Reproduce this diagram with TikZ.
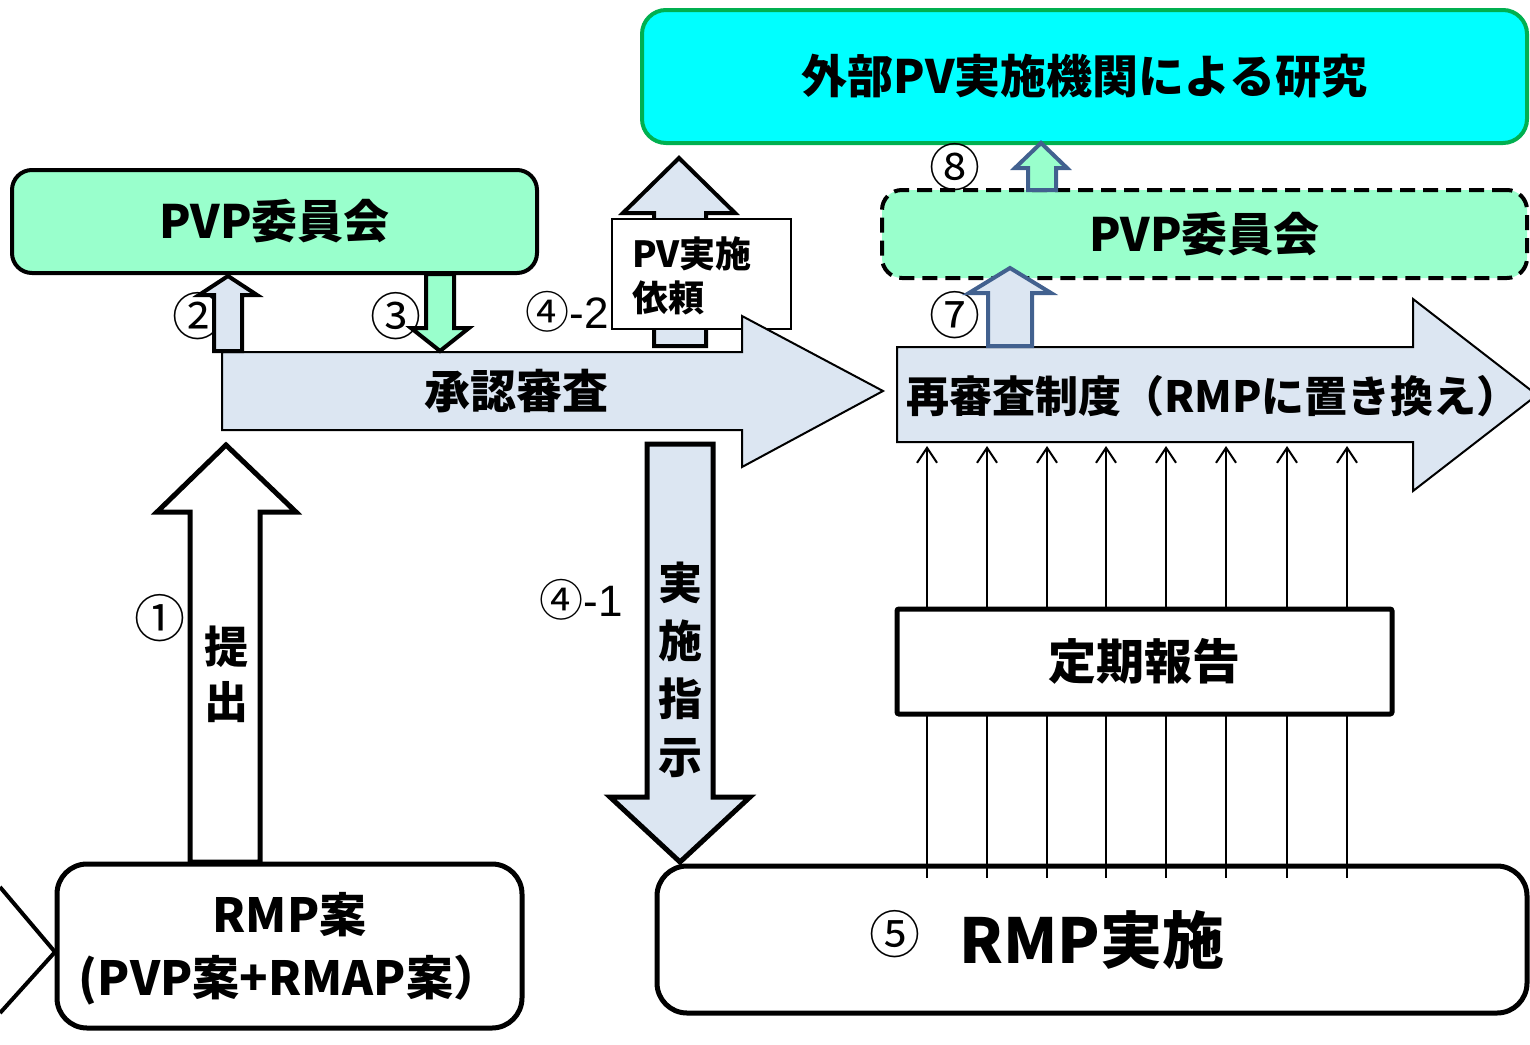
\documentclass[tikz,border=0pt]{standalone}
\usepackage{fontspec}
\setmainfont{Noto Sans CJK JP}
\newfontfamily\lat{Liberation Sans}
\usetikzlibrary{arrows.meta}
\definecolor{lbf}{HTML}{DCE6F2}
\definecolor{gnf}{HTML}{99FFCC}
\definecolor{cyf}{HTML}{00FFFF}
\definecolor{gnb}{HTML}{00B050}
\definecolor{blb}{HTML}{42618F}
\newcommand\fsz[2]{\fontsize{#1}{#2}\selectfont}
\tikzset{
  circnum/.style={font=\fsz{51}{56}, inner sep=0pt},
  subnum/.style={font=\fsz{44}{50}, inner sep=0pt},
  bigtxt/.style={font=\fsz{46}{52}\bfseries, inner sep=0pt},
  greenbox/.style={fill=gnf, draw=black, line width=4pt, rounded corners=20pt},
  whitebox/.style={fill=white, draw=black, line width=5pt, rounded corners=30pt},
  blockarr/.style={fill=lbf, draw=black, line width=2pt, line join=miter},
  fatarr/.style={draw=black, line width=5pt, line join=miter},
  midarr/.style={draw=black, line width=4pt, line join=miter},
  bluearr/.style={draw=blb, line width=4pt, line join=miter},
  thinarr/.style={draw=black, line width=2pt, -{Straight Barb[length=15pt,width=20pt,line width=2pt]}},
}
\begin{document}
\begin{tikzpicture}[x=1pt,y=-1pt]
\useasboundingbox (0,0) rectangle (1530,1044);

% ---- top box
\node[fill=cyf, draw=gnb, line width=4pt, rounded corners=24pt, minimum width=885pt, minimum height=133pt] (ext) at (1084.5,76.5) {};
\node[bigtxt] (extT) at (ext.center) {外部PV実施機関による研究};

% ---- left PVP committee
\node[greenbox, minimum width=525pt, minimum height=103pt] (pvpL) at (274.5,221.5) {};
\node[bigtxt] (pvpLT) at (pvpL.center) {PVP委員会};

% ---- dashed PVP committee
\node[greenbox, dash pattern=on 15pt off 8pt, minimum width=645pt, minimum height=88pt] (pvpR) at (1204.5,234) {};
\node[bigtxt] (pvpRT) at (pvpR.center) {PVP委員会};

% ---- labels (under arrows)
\node[circnum] (n1) at (160,618) {①};
\node[circnum] (n2) at (198,316) {②};
\node[circnum] (n3) at (396,316) {③};
\node[subnum] (n42) at (567,312) {④{\lat -2}};
\node[subnum] (n41) at (581,600) {④{\lat -1}};
\node[circnum] (n7) at (955,315) {⑦};
\node[circnum] (n8) at (955,167) {⑧};

% ---- PV request arrow (up) and box
\path[fill=lbf, midarr] (654,346) -- (654,213) -- (623,213) -- (679,158) -- (735,213) -- (706,213) -- (706,346) -- cycle;
\node[fill=white, draw=black, line width=2pt, minimum width=179pt, minimum height=110pt, inner sep=0pt] (pvreq) at (701.5,274) {};
\node[font=\fsz{36}{44}\bfseries, text width=139pt, align=left, inner sep=0pt] (pvreqT) at (701.5,276) {PV実施\\依頼};

% ---- approval review arrow
\path[blockarr] (222,352) -- (742,352) -- (742,316) -- (883,391) -- (742,467) -- (742,430) -- (222,430) -- cycle;
\node[bigtxt] (appr) at (516,391) {承認審査};

% ---- re-examination arrow
\path[blockarr] (897,347) -- (1413,347) -- (1413,299) -- (1537,395) -- (1413,491) -- (1413,442) -- (897,442) -- cycle;
\node[font=\fsz{43}{50}\bfseries, inner sep=0pt, anchor=west] (reex) at (906,396) {再審査制度（RMPに置き換え\makebox[0.45em][l]{）}};

% ---- small arrows 2 and 3
\path[fill=lbf, midarr] (214,351) -- (214,295) -- (199,295) -- (228,276) -- (257,295) -- (242,295) -- (242,351) -- cycle;
\path[fill=gnf, midarr] (426,274) -- (426,328) -- (411,328) -- (440,351) -- (469,328) -- (454,328) -- (454,274) -- cycle;

% ---- small arrows 7 and 8
\path[fill=lbf, bluearr] (988,346) -- (988,293) -- (969,293) -- (1010,268) -- (1051,293) -- (1032,293) -- (1032,346) -- cycle;
\path[fill=gnf, bluearr] (1028,190) -- (1028,168) -- (1015,168) -- (1041,143) -- (1067,168) -- (1056,168) -- (1056,190) -- cycle;

% ---- implementation instruction arrow (down)
\path[fill=lbf, fatarr] (647,444) -- (713,444) -- (713,797) -- (750,797) -- (680,862) -- (610,797) -- (647,797) -- cycle;
\node[font=\fsz{44}{58}\bfseries, align=center, inner sep=0pt] (instr) at (680,670) {実\\施\\指\\示};

% ---- submission arrow (up)
\path[fill=white, fatarr] (190,862) -- (190,512) -- (157,512) -- (226,445) -- (296,512) -- (260,512) -- (260,862) -- cycle;
\node[font=\fsz{44}{55}\bfseries, align=center, inner sep=0pt] (subm) at (226,674) {提\\出};

% ---- RMP implementation box
\node[whitebox, minimum width=870pt, minimum height=147pt] (impl) at (1092,939.5) {};
\node[font=\fsz{62}{70}\bfseries, inner sep=0pt] (implT) at (1092,940) {RMP実施};
\node[circnum] (n5) at (895,934) {⑤};

% ---- periodic report lines
\foreach \i/\x in {1/927,2/987,3/1047,4/1106,5/1166,6/1226,7/1287,8/1347}{
  \coordinate (lb\i) at (\x,878);
  \coordinate (lt\i) at (\x,446);
  \draw[thinarr] (lb\i) -- (lt\i);
}
\node[fill=white, draw=black, line width=5pt, rounded corners=2pt, minimum width=495pt, minimum height=105pt] (rep) at (1144.5,661.5) {};
\node[font=\fsz{48}{54}\bfseries, inner sep=0pt] (repT) at (rep.center) {定期報告};

% ---- RMP draft box
\node[whitebox, minimum width=465pt, minimum height=164pt] (draft) at (289.5,946) {};
\node[font=\fsz{47}{63}\bfseries, align=center, inner sep=0pt] (draftT) at (289.5,949) {RMP案\\(PVP案+RMAP案）};

% ---- chevron at left edge
\coordinate (cv1) at (0,887);
\coordinate (cv2) at (55,952);
\coordinate (cv3) at (0,1013);
\draw[line width=4pt] (cv1) -- (cv2) -- (cv3);
\end{tikzpicture}
\end{document}
